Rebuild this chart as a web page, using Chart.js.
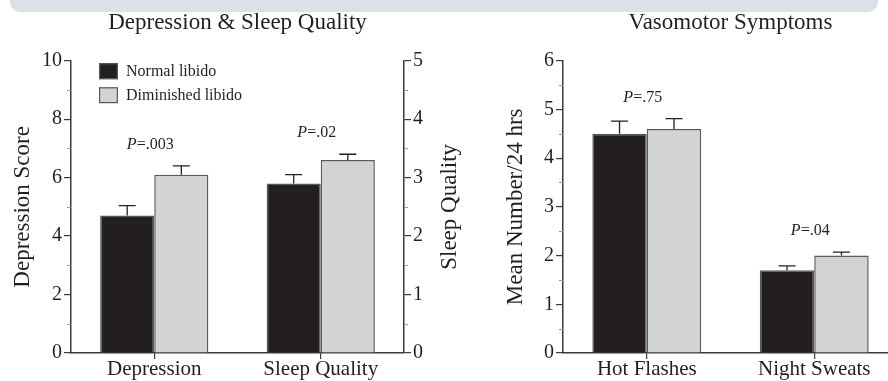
<!DOCTYPE html>
<html>
<head>
<meta charset="utf-8">
<script src="https://cdn.jsdelivr.net/npm/chart.js@4.4.1/dist/chart.umd.min.js"></script>
<style>
  html, body { margin: 0; padding: 0; background: #fff; }
  body { width: 888px; height: 381px; overflow: hidden; position: relative; }
  .band { position: absolute; left: 10px; top: 0; width: 868px; height: 12px; background: #dae1e8; border-radius: 0 0 10px 10px; }
  .box { position: absolute; top: 0; height: 381px; }
  #left { left: 0; width: 480px; }
  #right { left: 480px; width: 418px; }
</style>
</head>
<body>
<div class="band"></div>
<div class="box" id="left"><canvas id="leftChart"></canvas></div>
<div class="box" id="right"><canvas id="rightChart"></canvas></div>
<script>
// ---- data ----
const seriesNames = ['Normal libido', 'Diminished libido'];

const leftCategories = ['Depression', 'Sleep Quality'];
const depressionMeans = [4.7, 6.1];      // normal, diminished (left axis 0-10)
const depressionErrors = [0.34, 0.3];
const sleepMeans = [2.9, 3.3];           // normal, diminished (right axis 0-5)
const sleepErrors = [0.15, 0.1];
const leftPValues = ['.003', '.02'];

const rightCategories = ['Hot Flashes', 'Night Sweats'];
const normalVaso = [4.5, 1.7];
const normalVasoErrors = [0.26, 0.09];
const diminishedVaso = [4.6, 2.0];
const diminishedVasoErrors = [0.21, 0.07];
const rightPValues = ['.75', '.04'];

// ---- look ----
const FONT = '"Liberation Serif", "Times New Roman", serif';
const INK = '#231f20';
const DARK = '#231f20';
const LIGHT = '#d1d3d4';
const EDGE = '#58595b';
const AXIS = '#3a3a3a';

Chart.defaults.font.family = FONT;
Chart.defaults.color = INK;

// error bars (upper half only), drawn through each dataset's own y scale
const errorBars = {
  id: 'errorBars',
  afterDatasetsDraw(chart) {
    const ctx = chart.ctx;
    ctx.save();
    ctx.strokeStyle = INK;
    ctx.lineWidth = 1.3;
    chart.data.datasets.forEach((ds, i) => {
      const meta = chart.getDatasetMeta(i);
      const scale = chart.scales[meta.yAxisID];
      meta.data.forEach((bar, j) => {
        const v = ds.data[j];
        if (v == null) return;
        const top = scale.getPixelForValue(v + ds.errors[j]);
        ctx.beginPath();
        ctx.moveTo(bar.x, bar.y);
        ctx.lineTo(bar.x, top);
        ctx.moveTo(bar.x - 8.5, top);
        ctx.lineTo(bar.x + 8.5, top);
        ctx.stroke();
      });
    });
    ctx.restore();
  }
};

// "P=.xx" above each pair
const pLabels = {
  id: 'pLabels',
  afterDatasetsDraw(chart, args, opts) {
    const ctx = chart.ctx;
    const xScale = chart.scales.x;
    ctx.save();
    ctx.fillStyle = INK;
    ctx.textBaseline = 'middle';
    ctx.textAlign = 'left';
    opts.values.forEach((p, j) => {
      let capY = Infinity;
      chart.data.datasets.forEach((ds, i) => {
        const v = ds.data[j];
        if (v == null) return;
        const scale = chart.scales[chart.getDatasetMeta(i).yAxisID];
        capY = Math.min(capY, scale.getPixelForValue(v + ds.errors[j]));
      });
      const x = xScale.getPixelForValue(j) - 4;
      const y = capY - 21;
      ctx.font = 'italic 16px ' + FONT;
      const wP = ctx.measureText('P').width;
      ctx.font = '16px ' + FONT;
      const rest = '=' + p;
      const wR = ctx.measureText(rest).width;
      const x0 = x - (wP + wR) / 2;
      ctx.font = 'italic 16px ' + FONT;
      ctx.fillText('P', x0, y);
      ctx.font = '16px ' + FONT;
      ctx.fillText(rest, x0 + wP, y);
    });
    ctx.restore();
  }
};

// short grey minor ticks between the labelled ones
const minorTicks = {
  id: 'minorTicks',
  afterDraw(chart, args, opts) {
    const ctx = chart.ctx;
    ctx.save();
    ctx.strokeStyle = '#9a9a9a';
    ctx.lineWidth = 1;
    Object.entries(opts.steps || {}).forEach(([id, step]) => {
      const s = chart.scales[id];
      const left = s.position === 'left';
      const ax = left ? s.right : s.left;
      const dir = left ? -1 : 1;
      for (let v = s.min + step; v < s.max; v += step * 2) {
        const y = Math.round(s.getPixelForValue(v)) + 0.5;
        ctx.beginPath();
        ctx.moveTo(ax, y);
        ctx.lineTo(ax + dir * 4, y);
        ctx.stroke();
      }
    });
    ctx.restore();
  }
};

// legend boxes stacked inside the plot
const boxLegend = {
  id: 'boxLegend',
  afterDraw(chart, args, opts) {
    if (!opts.show) return;
    const ctx = chart.ctx;
    const a = chart.chartArea;
    ctx.save();
    ctx.font = '16px ' + FONT;
    ctx.textBaseline = 'middle';
    ctx.textAlign = 'left';
    opts.labels.forEach((label, k) => {
      const x = a.left + 28;
      const y = a.top + 2.5 + k * 24;
      ctx.fillStyle = opts.colors[k];
      ctx.fillRect(x, y, 19, 16);
      ctx.strokeStyle = EDGE;
      ctx.lineWidth = 1.2;
      ctx.strokeRect(x + 0.6, y + 0.6, 17.8, 14.8);
      ctx.fillStyle = INK;
      ctx.fillText(label, x + 27, y + 8.5);
    });
    ctx.restore();
  }
};

// right-hand axis title reading bottom-to-top
const sideTitle = {
  id: 'sideTitle',
  afterDraw(chart, args, opts) {
    if (!opts.text) return;
    const s = chart.scales[opts.scale];
    const a = chart.chartArea;
    const ctx = chart.ctx;
    ctx.save();
    ctx.translate(s.right - opts.offset, (a.top + a.bottom) / 2);
    ctx.rotate(-Math.PI / 2);
    ctx.font = '23px ' + FONT;
    ctx.fillStyle = INK;
    ctx.textAlign = 'center';
    ctx.textBaseline = 'middle';
    ctx.fillText(opts.text, 0, 0);
    ctx.restore();
  }
};

function barSet(label, data, errors, color, axis) {
  return {
    label, data, errors,
    yAxisID: axis,
    backgroundColor: color,
    borderColor: EDGE,
    borderWidth: 1.5,
    categoryPercentage: 0.65,
    barPercentage: 1,
    skipNull: true
  };
}

function yScale(pos, max, step, width, title, titlePad) {
  return {
    position: pos,
    min: 0, max: max,
    ticks: { stepSize: step, padding: 2, font: { size: 20 }, color: INK },
    grid: { drawOnChartArea: false, drawTicks: true, tickLength: 7, color: AXIS, lineWidth: 1.2 },
    border: { display: true, color: AXIS, width: 1.5 },
    title: { display: !!title, text: title, font: { size: 23 }, color: INK, padding: { top: titlePad, bottom: 0 } },
    afterFit: s => { s.width = width; }
  };
}

const xScale = {
  ticks: { font: { size: 21, lineHeight: 1 }, padding: 0, color: INK, maxRotation: 0, autoSkip: false },
  grid: { offset: false, drawOnChartArea: false, drawTicks: true, tickLength: 6, color: AXIS, lineWidth: 1.2 },
  border: { display: true, color: AXIS, width: 1.5 },
  afterFit: s => { s.height = 28; }
};

function titleOpts(text) {
  return {
    display: true, text, fullSize: false, color: INK,
    font: { size: 23, weight: 'normal' },
    padding: { top: 8.7, bottom: 24.4 }
  };
}

const common = {
  responsive: true,
  maintainAspectRatio: false,
  devicePixelRatio: 1,
  animation: false,
  events: [],
  layout: { padding: 0 }
};

new Chart(document.getElementById('leftChart'), {
  type: 'bar',
  data: {
    labels: leftCategories,
    datasets: [
      barSet(seriesNames[0], [depressionMeans[0], null], [depressionErrors[0], null], DARK, 'y'),
      barSet(seriesNames[1], [depressionMeans[1], null], [depressionErrors[1], null], LIGHT, 'y'),
      barSet(seriesNames[0], [null, sleepMeans[0]], [null, sleepErrors[0]], DARK, 'y1'),
      barSet(seriesNames[1], [null, sleepMeans[1]], [null, sleepErrors[1]], LIGHT, 'y1')
    ]
  },
  options: {
    ...common,
    scales: {
      x: xScale,
      y: yScale('left', 10, 2, 71, 'Depression Score', 9.2),
      y1: yScale('right', 5, 1, 76, '', 0)
    },
    plugins: {
      legend: { display: false },
      tooltip: { enabled: false },
      title: titleOpts('Depression & Sleep Quality'),
      pLabels: { values: leftPValues },
      minorTicks: { steps: { y: 1, y1: 0.5 } },
      boxLegend: { show: true, labels: seriesNames, colors: [DARK, LIGHT] },
      sideTitle: { text: 'Sleep Quality', scale: 'y1', offset: 30 }
    }
  },
  plugins: [errorBars, pLabels, minorTicks, boxLegend, sideTitle]
});

new Chart(document.getElementById('rightChart'), {
  type: 'bar',
  data: {
    labels: rightCategories,
    datasets: [
      barSet(seriesNames[0], normalVaso, normalVasoErrors, DARK, 'y'),
      barSet(seriesNames[1], diminishedVaso, diminishedVasoErrors, LIGHT, 'y')
    ]
  },
  options: {
    ...common,
    scales: {
      x: xScale,
      y: yScale('left', 6, 1, 83, 'Mean Number/24 hrs', 21.9)
    },
    plugins: {
      legend: { display: false },
      tooltip: { enabled: false },
      title: titleOpts('Vasomotor Symptoms'),
      pLabels: { values: rightPValues },
      minorTicks: { steps: { y: 0.5 } },
      boxLegend: { show: false },
      sideTitle: { text: '' }
    }
  },
  plugins: [errorBars, pLabels, minorTicks, boxLegend, sideTitle]
});
</script>
</body>
</html>
